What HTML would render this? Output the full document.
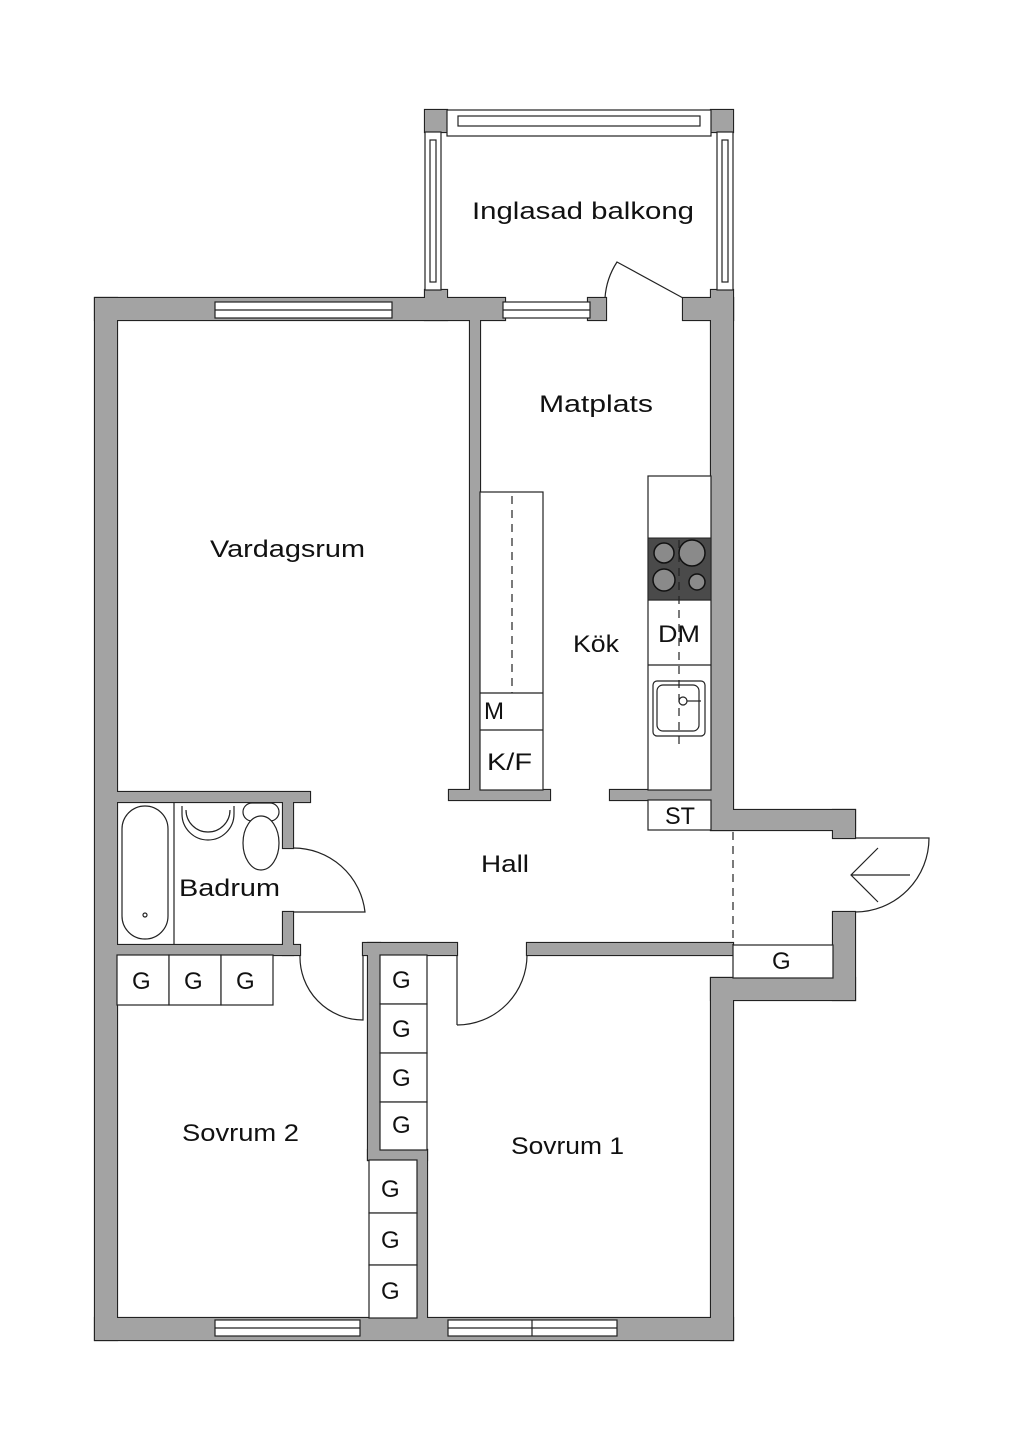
<!DOCTYPE html>
<html><head><meta charset="utf-8"><style>
html,body{margin:0;padding:0;background:#fff;}
svg{display:block}
text{font-family:"Liberation Sans",sans-serif;font-size:24px;fill:#111;}
</style></head><body>
<svg width="1024" height="1448" viewBox="0 0 1024 1448" xmlns="http://www.w3.org/2000/svg">
<defs>
<g id="walls">
<rect x="95" y="298" width="22" height="1042"/>
<rect x="95" y="1318" width="638" height="22"/>
<rect x="95" y="298" width="410" height="22"/>
<rect x="683" y="298" width="50" height="22"/>
<rect x="711" y="298" width="22" height="532"/>
<rect x="711" y="810" width="144" height="20"/>
<rect x="833" y="810" width="22" height="28"/>
<rect x="833" y="912" width="22" height="88"/>
<rect x="711" y="978" width="144" height="22"/>
<rect x="711" y="978" width="22" height="362"/>
<rect x="588" y="298" width="18" height="22"/>
<rect x="425" y="110" width="22" height="22"/>
<rect x="711" y="110" width="22" height="22"/>
<rect x="425" y="290" width="22" height="30"/>
<rect x="711" y="290" width="22" height="30"/>
<rect x="470" y="310" width="10" height="480"/>
<rect x="449" y="790" width="101" height="10"/>
<rect x="610" y="790" width="101" height="10"/>
<rect x="110" y="792" width="200" height="10"/>
<rect x="283" y="795" width="10" height="53"/>
<rect x="283" y="912" width="10" height="43"/>
<rect x="110" y="945" width="190" height="10"/>
<rect x="363" y="943" width="94" height="12"/>
<rect x="527" y="943" width="206" height="12"/>
<rect x="368" y="943" width="12" height="217"/>
<rect x="368" y="1150" width="59" height="10"/>
<rect x="417" y="1150" width="10" height="175"/>
</g>
</defs>
<use href="#walls" fill="#a3a3a3" stroke="#222" stroke-width="2.2"/>
<use href="#walls" fill="#a3a3a3" stroke="none"/>
<g fill="#fff" stroke="#222" stroke-width="1.2">
<rect x="215" y="302" width="177" height="16"/><line x1="215" y1="310" x2="392" y2="310"/>
<rect x="503" y="302" width="87" height="16"/><line x1="503" y1="310" x2="590" y2="310"/>
<rect x="215" y="1320" width="145" height="16"/><line x1="215" y1="1328" x2="360" y2="1328"/>
<rect x="448" y="1320" width="169" height="16"/><line x1="448" y1="1328" x2="617" y2="1328"/><line x1="532" y1="1320" x2="532" y2="1336"/>
<rect x="447" y="110" width="264" height="26"/><rect x="458" y="116" width="242" height="10"/>
<rect x="425" y="132" width="16" height="158"/><rect x="430" y="140" width="6" height="142"/>
<rect x="717" y="132" width="16" height="158"/><rect x="722" y="140" width="6" height="142"/>
<rect x="648" y="476" width="63" height="314"/>
<rect x="480" y="492" width="63" height="298"/>
<line x1="480" y1="693" x2="543" y2="693"/><line x1="480" y1="730" x2="543" y2="730"/>
<rect x="648" y="800" width="63" height="30"/>
<line x1="648" y1="600" x2="711" y2="600"/><line x1="648" y1="665" x2="711" y2="665"/>
<rect x="653" y="681" width="52" height="55" rx="4"/><rect x="657" y="685" width="42" height="46" rx="6"/>
<rect x="117" y="955" width="52" height="50"/><rect x="169" y="955" width="52" height="50"/><rect x="221" y="955" width="52" height="50"/>
<rect x="380" y="955" width="47" height="49"/><rect x="380" y="1004" width="47" height="49"/><rect x="380" y="1053" width="47" height="49"/><rect x="380" y="1102" width="47" height="48"/>
<rect x="369" y="1160" width="48" height="53"/><rect x="369" y="1213" width="48" height="52"/><rect x="369" y="1265" width="48" height="53"/>
<rect x="733" y="945" width="100" height="33"/>
<line x1="174" y1="802" x2="174" y2="945"/>
<rect x="122" y="806" width="46" height="133" rx="23"/>
<circle cx="145" cy="915" r="2"/>
<path d="M182 806 v8 a26 26 0 0 0 52 0 v-8"/><path d="M186 810 a22 22 0 0 0 44 0"/>
<rect x="243" y="803" width="36" height="18" rx="9"/>
<ellipse cx="261" cy="843" rx="18" ry="27"/>
</g>
<rect x="648" y="538" width="63" height="62" fill="#4a4a4a" stroke="#222"/>
<g fill="#8a8a8a" stroke="#111" stroke-width="1.5">
<circle cx="664" cy="553" r="10"/><circle cx="692" cy="553" r="13"/><circle cx="664" cy="580" r="11"/><circle cx="697" cy="582" r="8"/>
</g>
<g fill="none" stroke="#222" stroke-width="1.2">
<line x1="512" y1="496" x2="512" y2="693" stroke-dasharray="8,6"/>
<line x1="679" y1="540" x2="679" y2="745" stroke-dasharray="8,6"/>
<line x1="733" y1="832" x2="733" y2="945" stroke-dasharray="8,6"/>
<circle cx="683" cy="701" r="4"/><line x1="687" y1="701" x2="701" y2="701"/>
<path d="M683 298 L617 262 A75 75 0 0 0 605 298"/>
<path d="M293 848 A72 72 0 0 1 365 912 L293 912"/>
<path d="M300 955 A63 63 0 0 0 363 1020 L363 955"/>
<path d="M457 1025 L457 955 M457 1025 A70 70 0 0 0 527 955"/>
<path d="M855 838 L929 838 A74 74 0 0 1 855 912"/>
<path d="M878 848 L851 875 L878 902 M851 875 L910 875"/>
</g>
<text x="472" y="219" textLength="222" lengthAdjust="spacingAndGlyphs">Inglasad balkong</text>
<text x="539" y="412" textLength="114" lengthAdjust="spacingAndGlyphs">Matplats</text>
<text x="210" y="557" textLength="155" lengthAdjust="spacingAndGlyphs">Vardagsrum</text>
<text x="573" y="652" textLength="46" lengthAdjust="spacingAndGlyphs">Kök</text>
<text x="658" y="642" textLength="42" lengthAdjust="spacingAndGlyphs">DM</text>
<text x="484" y="719">M</text>
<text x="487" y="770" textLength="45" lengthAdjust="spacingAndGlyphs">K/F</text>
<text x="665" y="824" textLength="30" lengthAdjust="spacingAndGlyphs">ST</text>
<text x="481" y="872" textLength="48" lengthAdjust="spacingAndGlyphs">Hall</text>
<text x="179" y="896" textLength="101" lengthAdjust="spacingAndGlyphs">Badrum</text>
<text x="132" y="989">G</text><text x="184" y="989">G</text><text x="236" y="989">G</text>
<text x="392" y="988">G</text><text x="392" y="1037">G</text><text x="392" y="1086">G</text><text x="392" y="1133">G</text>
<text x="381" y="1197">G</text><text x="381" y="1248">G</text><text x="381" y="1299">G</text>
<text x="772" y="969">G</text>
<text x="182" y="1141" textLength="117" lengthAdjust="spacingAndGlyphs">Sovrum 2</text>
<text x="511" y="1154" textLength="113" lengthAdjust="spacingAndGlyphs">Sovrum 1</text>
</svg>
</body></html>
